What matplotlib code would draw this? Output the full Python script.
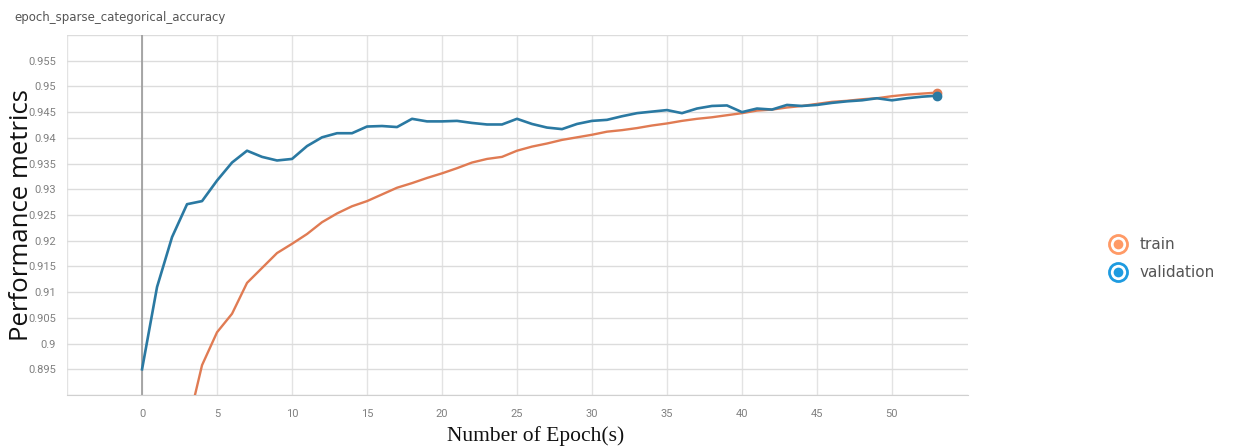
import numpy as np
import matplotlib.pyplot as plt
from matplotlib.lines import Line2D
from matplotlib.legend_handler import HandlerTuple


# ======================
# data
# ======================
epochs = list(range(54))

train_acc = [
    0.820, 0.850, 0.870, 0.8835, 0.8958, 0.9022, 0.9058, 0.9118, 0.9147, 0.9176,
    0.9194, 0.9213, 0.9236, 0.9253, 0.9267, 0.9277, 0.9290, 0.9303, 0.9312, 0.9322,
    0.9331, 0.9341, 0.9352, 0.9359, 0.9363, 0.9375, 0.9383, 0.9389, 0.9396, 0.9401,
    0.9406, 0.9412, 0.9415, 0.9419, 0.9424, 0.9428, 0.9433, 0.9437, 0.9440, 0.9444,
    0.9448, 0.9453, 0.9455, 0.9459, 0.9462, 0.9466, 0.9470, 0.9472, 0.9475, 0.9477,
    0.9481, 0.9484, 0.9486, 0.9488,
]

val_acc = [
    0.8950, 0.9110, 0.9207, 0.9271, 0.9277, 0.9317, 0.9352, 0.9375, 0.9363, 0.9356,
    0.9359, 0.9384, 0.9401, 0.9409, 0.9409, 0.9422, 0.9423, 0.9421, 0.9437, 0.9432,
    0.9432, 0.9433, 0.9429, 0.9426, 0.9426, 0.9437, 0.9427, 0.9420, 0.9417, 0.9427,
    0.9433, 0.9435, 0.9442, 0.9448, 0.9451, 0.9454, 0.9448, 0.9457, 0.9462, 0.9463,
    0.9450, 0.9457, 0.9455, 0.9464, 0.9462, 0.9464, 0.9468, 0.9471, 0.9473, 0.9477,
    0.9473, 0.9477, 0.9480, 0.9482,
]

x_ticks = [0, 5, 10, 15, 20, 25, 30, 35, 40, 45, 50]
y_ticks = [0.895, 0.9, 0.905, 0.91, 0.915, 0.92, 0.925, 0.93,
           0.935, 0.94, 0.945, 0.95, 0.955]
y_tick_labels = ["0.895", "0.9", "0.905", "0.91", "0.915", "0.92", "0.925",
                 "0.93", "0.935", "0.94", "0.945", "0.95", "0.955"]

train_color = "#e07b53"
val_color = "#2a79a2"
train_legend = "#ff9a66"
val_legend = "#1e9be0"

tick_font = ["Roboto", "DejaVu Sans"]


# ======================
# figure
# ======================
fig = plt.figure(figsize=(12.35, 4.48), dpi=100)
ax = fig.add_axes([0.0543, 0.1183, 0.7295, 0.8036])

ax.set_xlim(-5, 55.07)
ax.set_ylim(0.89, 0.96)

# grid
for xv in np.arange(-5, 55, 5):
    ax.axvline(xv, color="#e3e3e3", lw=1.0, zorder=0)
for yv in np.arange(0.89, 0.9601, 0.005):
    ax.axhline(yv, color="#dcdcdc", lw=1.0, zorder=0)
ax.axvline(0, color="#999999", lw=1.2, zorder=1)

ax.plot(epochs, train_acc, color=train_color, lw=1.7, zorder=3)
ax.plot(epochs, val_acc, color=val_color, lw=1.9, zorder=4)
ax.plot(epochs[-1], train_acc[-1], "o", color=train_color, ms=6, zorder=5)
ax.plot(epochs[-1], val_acc[-1], "o", color=val_color, ms=6, zorder=5)

for s in ["top", "right", "left"]:
    ax.spines[s].set_visible(False)
ax.spines["bottom"].set_color("#d0d0d0")

ax.set_xticks(x_ticks)
ax.set_yticks(y_ticks)
ax.set_yticklabels(y_tick_labels)
ax.tick_params(length=0, labelsize=8, labelcolor="#808080", pad=8)
ax.tick_params(axis="x", pad=10)
for lbl in ax.get_xticklabels() + ax.get_yticklabels():
    lbl.set_family(tick_font)

ax.set_xlabel("Number of Epoch(s)", family="Liberation Serif",
              fontsize=15.5, color="#111111")
ax.xaxis.set_label_coords(0.52, -0.085)
ax.set_ylabel("Performance metrics", family="Open Sans",
              fontsize=18.5, color="#111111")
ax.yaxis.set_label_coords(-0.037, 0.5)

fig.text(0.012, 0.962, "epoch_sparse_categorical_accuracy",
         fontsize=8.5, color="#555555", va="center")


# ======================
# legend (ring + dot markers)
# ======================
def ring(c):
    outer = Line2D([], [], ls="", marker="o", ms=13, mfc="white",
                   mec=c, mew=2)
    inner = Line2D([], [], ls="", marker="o", ms=7, mfc=c, mec=c, mew=0)
    return (outer, inner)


leg = fig.legend([ring(train_legend), ring(val_legend)],
                 ["train", "validation"], loc="center left",
                 bbox_to_anchor=(0.882, 0.422), frameon=False,
                 fontsize=11, labelspacing=0.85, handletextpad=0.4,
                 handler_map={tuple: HandlerTuple(ndivide=1)})
for t in leg.get_texts():
    t.set_color("#555555")

fig.savefig("out.png", dpi=100)
